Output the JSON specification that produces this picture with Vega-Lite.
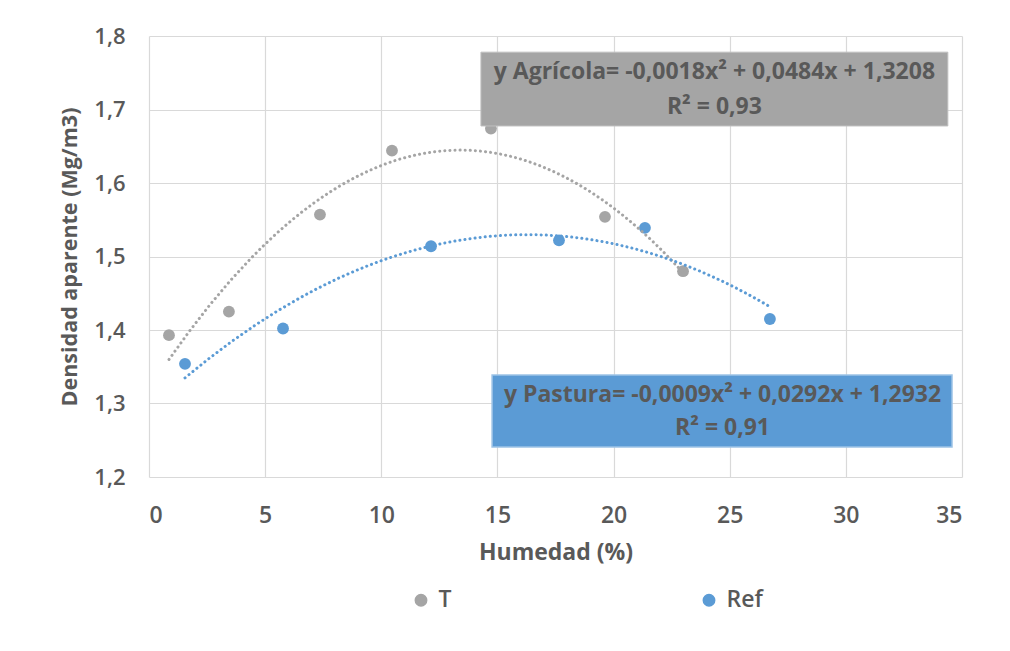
{
  "$schema": "https://vega.github.io/schema/vega-lite/v6.json",
  "width": 813,
  "height": 441,
  "autosize": "none",
  "padding": {"left": 149, "top": 36, "right": 48, "bottom": 174},
  "background": "white",
  "config": {
    "view": {"stroke": null},
    "font": "Open Sans",
    "axis": {"gridColor": "#D9D9D9", "gridWidth": 1.2, "domain": false, "ticks": false,
             "labelColor": "#595959", "labelFont": "Open Sans", "labelFontWeight": 600,
             "titleColor": "#595959", "titleFont": "Open Sans", "titleFontWeight": "bold"}
  },
  "data": {"values": [
    {"serie": "T", "humedad": 0.86, "densidad": 1.393},
    {"serie": "T", "humedad": 3.44, "densidad": 1.425},
    {"serie": "T", "humedad": 7.36, "densidad": 1.557},
    {"serie": "T", "humedad": 10.46, "densidad": 1.644},
    {"serie": "T", "humedad": 14.72, "densidad": 1.674},
    {"serie": "T", "humedad": 19.63, "densidad": 1.554},
    {"serie": "T", "humedad": 22.99, "densidad": 1.480},
    {"serie": "Ref", "humedad": 1.55, "densidad": 1.354},
    {"serie": "Ref", "humedad": 5.77, "densidad": 1.402},
    {"serie": "Ref", "humedad": 12.14, "densidad": 1.514},
    {"serie": "Ref", "humedad": 17.65, "densidad": 1.522},
    {"serie": "Ref", "humedad": 21.35, "densidad": 1.539},
    {"serie": "Ref", "humedad": 26.73, "densidad": 1.415}
  ]},
  "layer": [
    {
      "mark": {"type": "point", "filled": true, "opacity": 1, "size": 140},
      "encoding": {
        "x": {"field": "humedad", "type": "quantitative",
              "scale": {"domain": [0, 35], "nice": false, "zero": false},
              "axis": {"values": [0, 5, 10, 15, 20, 25, 30, 35], "labelPadding": 27, "labelFontSize": 23,
                       "title": "Humedad (%)", "titleFontSize": 23, "titlePadding": 14}},
        "y": {"field": "densidad", "type": "quantitative",
              "scale": {"domain": [1.2, 1.8], "nice": false, "zero": false},
              "axis": {"values": [1.2, 1.3, 1.4, 1.5, 1.6, 1.7, 1.8], "labelPadding": 24, "labelFontSize": 22,
                       "labelExpr": "replace(format(datum.value, '.1f'), '.', ',')",
                       "title": "Densidad aparente (Mg/m3)", "titleFontSize": 21.5, "titlePadding": 12}},
        "color": {"field": "serie", "type": "nominal",
                  "scale": {"domain": ["T", "Ref"], "range": ["#A5A5A5", "#5B9BD5"]},
                  "legend": {"title": null, "orient": "none", "direction": "horizontal",
                             "legendX": 260.5, "legendY": 552.5, "columnPadding": 246,
                             "symbolSize": 130, "symbolType": "circle", "labelFontSize": 23,
                             "labelColor": "#595959", "labelFont": "Open Sans", "labelFontWeight": 600,
                             "labelOffset": 6, "padding": 0}}
      }
    },
    {
      "transform": [
        {"regression": "densidad", "on": "humedad", "groupby": ["serie"], "method": "poly", "order": 2}
      ],
      "mark": {"type": "line", "strokeDash": [0.1, 5], "strokeCap": "round", "strokeWidth": 3},
      "encoding": {
        "x": {"field": "humedad", "type": "quantitative"},
        "y": {"field": "densidad", "type": "quantitative"},
        "stroke": {"field": "serie", "type": "nominal",
                   "scale": {"domain": ["T", "Ref"], "range": ["#A5A5A5", "#5B9BD5"]}, "legend": null}
      }
    },
    {
      "data": {"values": [{}]},
      "mark": {"type": "rect", "fill": "#A5A5A5", "stroke": "#BFBFBF", "strokeWidth": 1},
      "encoding": {
        "x": {"datum": 14.29, "type": "quantitative"},
        "x2": {"datum": 34.39},
        "y": {"datum": 1.778, "type": "quantitative"},
        "y2": {"datum": 1.6776}
      }
    },
    {
      "data": {"values": [{}]},
      "mark": {"type": "text", "text": ["y Agrícola= -0,0018x² + 0,0484x + 1,3208", "R² = 0,93"],
               "align": "center", "baseline": "middle", "lineHeight": 35,
               "fontSize": 23, "fontWeight": "bold", "color": "#595959", "font": "Open Sans"},
      "encoding": {
        "x": {"datum": 24.34, "type": "quantitative"},
        "y": {"datum": 1.751, "type": "quantitative"}
      }
    },
    {
      "data": {"values": [{}]},
      "mark": {"type": "rect", "fill": "#5B9BD5", "stroke": "#9DC3E6", "strokeWidth": 1.5},
      "encoding": {
        "x": {"datum": 14.77, "type": "quantitative"},
        "x2": {"datum": 34.57},
        "y": {"datum": 1.3388, "type": "quantitative"},
        "y2": {"datum": 1.2408}
      }
    },
    {
      "data": {"values": [{}]},
      "mark": {"type": "text", "text": ["y Pastura= -0,0009x² + 0,0292x + 1,2932", "R² = 0,91"],
               "align": "center", "baseline": "middle", "lineHeight": 33,
               "fontSize": 23, "fontWeight": "bold", "color": "#595959", "font": "Open Sans"},
      "encoding": {
        "x": {"datum": 24.69, "type": "quantitative"},
        "y": {"datum": 1.3116, "type": "quantitative"}
      }
    }
  ]
}
